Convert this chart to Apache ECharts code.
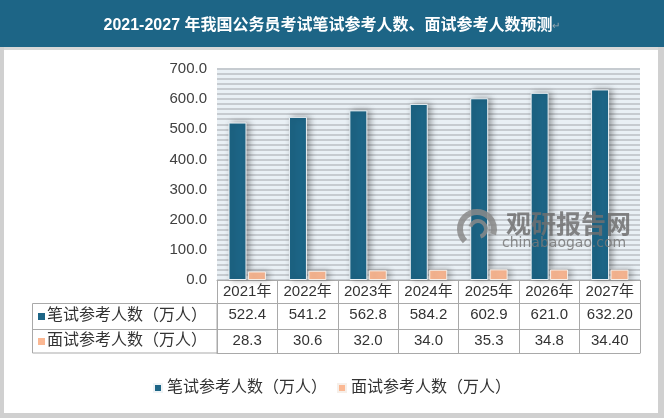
<!DOCTYPE html>
<html>
<head>
<meta charset="utf-8">
<script src="https://cdn.jsdelivr.net/npm/echarts@6/dist/echarts.min.js"></script>
<style>html,body{margin:0;padding:0;background:#fff}#c{width:664px;height:418px}</style>
</head>
<body>
<div id="c"></div>
<script>
const titleText = '2021-2027 年我国公务员考试笔试参考人数、面试参考人数预测';
const years = ['2021年','2022年','2023年','2024年','2025年','2026年','2027年'];
const seriesNames = ['笔试参考人数（万人）','面试参考人数（万人）'];
const writtenValues = [522.4,541.2,562.8,584.2,602.9,621.0,632.2];
const writtenLabels = ['522.4','541.2','562.8','584.2','602.9','621.0','632.20'];
const interviewValues = [28.3,30.6,32.0,34.0,35.3,34.8,34.4];
const interviewLabels = ['28.3','30.6','32.0','34.0','35.3','34.8','34.40'];
const colors = ['#1d6586','#fbb893'];

const FONT = "'Liberation Sans','Noto Sans CJK SC',sans-serif";
const BORDER = '#a9a9a9';
const TXT = '#333333';

const chart = echarts.init(document.getElementById('c'), null, {renderer:'canvas'});

function tableAxis(data, offset, tickLen, showLabel) {
  return {
    type:'category', data:data, gridIndex:0, position:'bottom', offset:offset,
    axisLine:{show:true, lineStyle:{color:BORDER, width:1}},
    axisTick:{show:tickLen>0, interval:0, length:tickLen, lineStyle:{color:BORDER, width:1}},
    axisLabel:{show:showLabel, interval:0, margin:4, fontSize:15, color:TXT, fontFamily:FONT},
    splitLine:{show:false}
  };
}

const option = {
  backgroundColor:'#ffffff',
  animation:false,
  color:colors,
  title:{
    text: titleText + '{r|↵}',
    left:'center', top:13,
    textStyle:{color:'#ffffff', fontSize:16, fontWeight:'bold', fontFamily:FONT,
      rich:{r:{color:'#9aa8b0', fontSize:10, fontWeight:'normal'}}}
  },
  grid:{left:217, right:24, top:69, bottom:138, show:true, backgroundColor:'#e9f0f5', borderWidth:0},
  legend:{
    data:seriesNames, left:148, top:375, itemWidth:8, itemHeight:8, itemGap:10,
    icon:'rect',
    textStyle:{fontSize:16, color:TXT, fontFamily:FONT}
  },
  xAxis:[
    tableAxis(years, 0, 23, true),
    tableAxis(writtenLabels, 23, 26, true),
    tableAxis(interviewLabels, 49, 24, true),
    tableAxis(years, 73, 0, false)
  ],
  yAxis:{
    type:'value', min:0, max:700, interval:100,
    axisLine:{show:false}, axisTick:{show:false},
    axisLabel:{margin:10, fontSize:15, color:'#404040', fontFamily:FONT,
      formatter:function(v){return v.toFixed(1);}},
    splitLine:{show:true, lineStyle:{color:'#c6cbd0', width:2}},
    minorTick:{show:false, splitNumber:6},
    minorSplitLine:{show:true, lineStyle:{color:'#c6cbd0', width:2}}
  },
  series:[
    {name:seriesNames[0], type:'bar', xAxisIndex:0, data:writtenValues, barWidth:18, barGap:'8%',
      itemStyle:{color:colors[0], borderColor:'#eef3f6', borderWidth:1,
        shadowBlur:6, shadowColor:'rgba(0,0,0,0.35)', shadowOffsetX:3, shadowOffsetY:0}},
    {name:seriesNames[1], type:'bar', xAxisIndex:0, data:interviewValues, barWidth:18,
      itemStyle:{color:colors[1], borderColor:'#f6efe9', borderWidth:1,
        shadowBlur:6, shadowColor:'rgba(0,0,0,0.3)', shadowOffsetX:3, shadowOffsetY:0}}
  ],
  graphic:[
    {type:'rect', shape:{x:0,y:0,width:664,height:47}, style:{fill:'#1d6586'}, z:-10},
    {type:'rect', shape:{x:0,y:47,width:664,height:3}, style:{fill:'#d8d8d8'}, z:-10},
    {type:'rect', shape:{x:0,y:47,width:4,height:371}, style:{fill:'#d0d0d0'}, z:-10},
    {type:'rect', shape:{x:658,y:47,width:6,height:371}, style:{fill:'#d0d0d0'}, z:-10},
    {type:'rect', shape:{x:0,y:413,width:664,height:5}, style:{fill:'#d0d0d0'}, z:-10},
    // row header cells of the table
    {type:'rect', shape:{x:32.5,y:303.5,width:184.5,height:49.5}, style:{fill:'none', stroke:BORDER, lineWidth:1}, z:5},
    {type:'line', shape:{x1:32.5,y1:329.5,x2:217,y2:329.5}, style:{stroke:BORDER, lineWidth:1}, z:5},
    {type:'rect', shape:{x:38,y:313,width:7,height:7}, style:{fill:colors[0]}, z:5},
    {type:'rect', shape:{x:38,y:338,width:7,height:7}, style:{fill:colors[1]}, z:5},
    {type:'text', x:47, y:316, style:{text:seriesNames[0], fill:TXT, font:"16px "+FONT, textVerticalAlign:'middle', verticalAlign:'middle'}, z:5},
    {type:'text', x:47, y:341, style:{text:seriesNames[1], fill:TXT, font:"16px "+FONT, textVerticalAlign:'middle', verticalAlign:'middle'}, z:5},
    // watermark (drawn above the bars)
    {type:'arc', zlevel:2, z:100, shape:{cx:477, cy:229, r:17, startAngle:Math.PI*0.75, endAngle:Math.PI*2.1}, style:{stroke:'#8a8a8a', fill:'none', lineWidth:6, opacity:0.85}},
    {type:'arc', zlevel:2, z:100, shape:{cx:478, cy:229, r:8, startAngle:Math.PI*1.1, endAngle:Math.PI*2.4}, style:{stroke:'#8a8a8a', fill:'none', lineWidth:4, opacity:0.85}},
    {type:'text', zlevel:2, z:100, x:506, y:211, style:{text:'观研报告网', fill:'#707070', opacity:0.85, font:"bold 25px 'Noto Sans CJK SC'"}},
    {type:'text', zlevel:2, z:100, x:502, y:236, style:{text:'chinabaogao.com', fill:'#787878', opacity:0.85, font:"14px 'DejaVu Sans'"}}
  ]
};
chart.setOption(option);
</script>
</body>
</html>
